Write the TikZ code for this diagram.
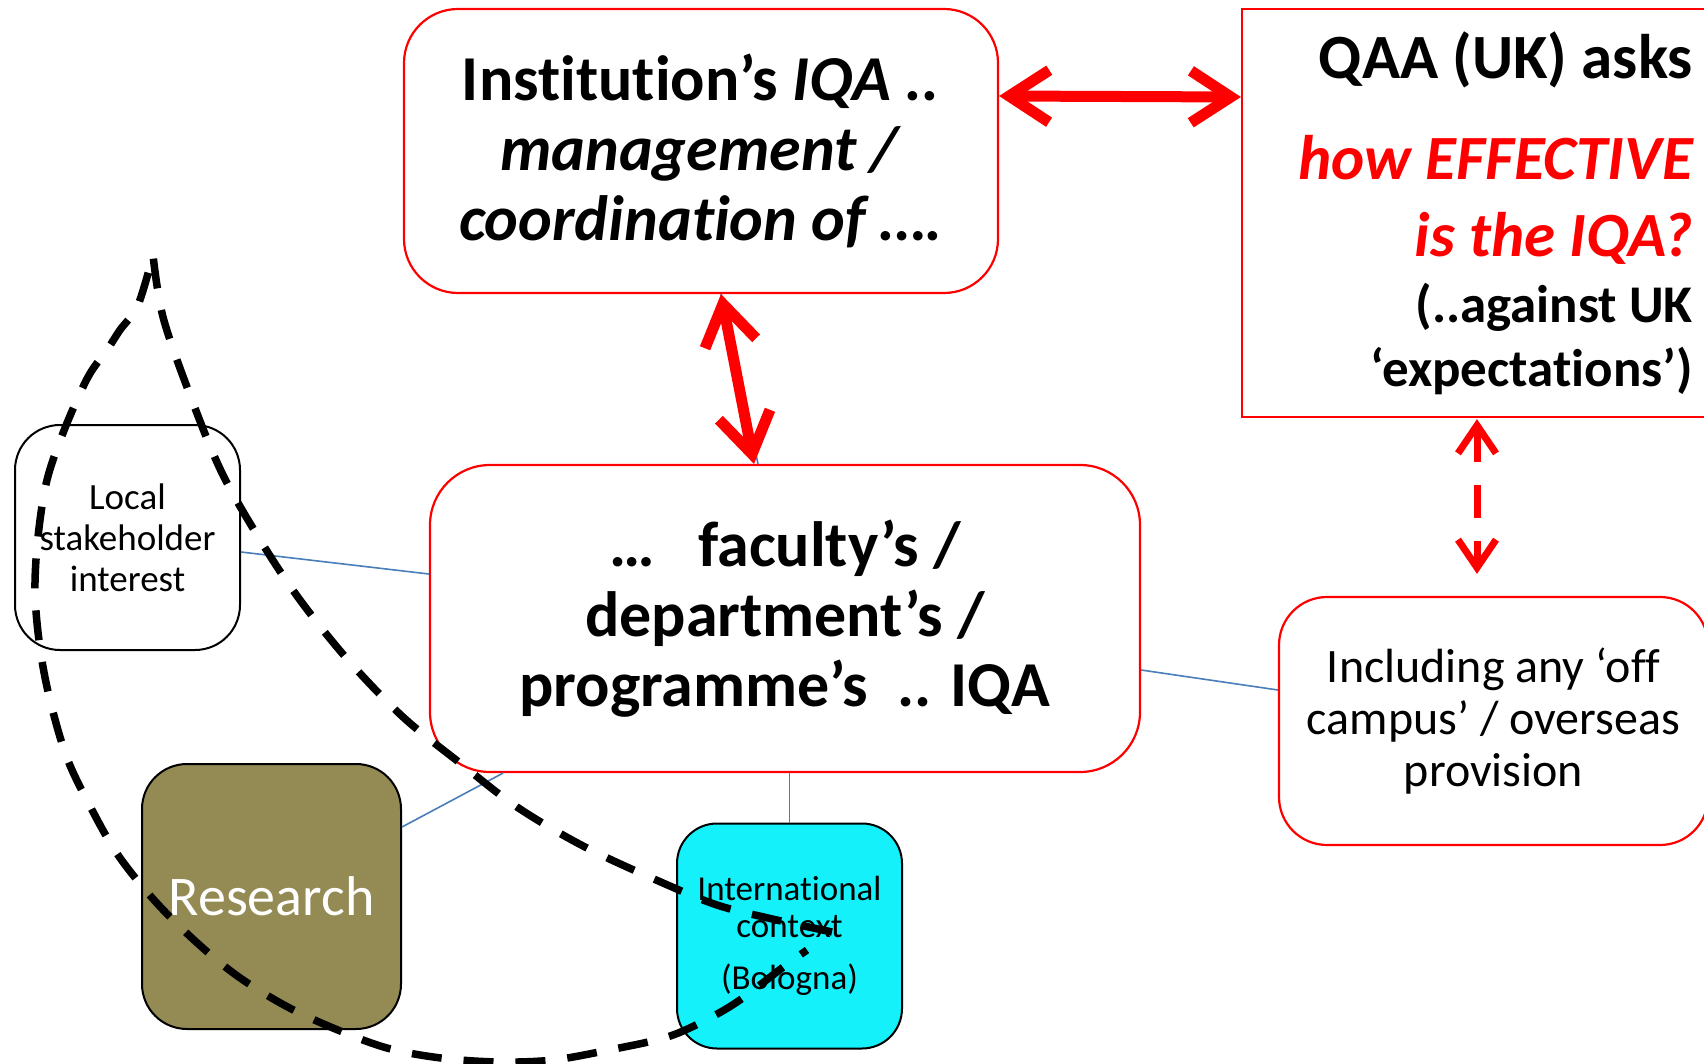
\documentclass[tikz,border=0pt]{standalone}
\usepackage{fontspec}
\setmainfont{Carlito}[Ligatures={NoCommon}]
\usetikzlibrary{arrows.meta}
\definecolor{olivebox}{HTML}{948A54}
\definecolor{cyanbox}{HTML}{14F1FB}
\definecolor{linkblue}{HTML}{4A7EBB}
\definecolor{qred}{HTML}{FF0000}
\begin{document}
\begin{tikzpicture}[x=1pt,y=-1pt,
  redbox/.style={draw=qred, line width=2.2pt, fill=white, rounded corners=#1, inner sep=0pt, align=center},
  blackbox/.style={draw=black, line width=2pt, rounded corners=#1, inner sep=0pt, align=center},
  link/.style={draw=linkblue, line width=1.6pt},
  bigarrow/.style={draw=qred, line width=11pt, {Straight Barb[length=40pt,width=52pt]}-{Straight Barb[length=40pt,width=52pt]}},
  dasharrow/.style={draw=qred, line width=7pt, dash pattern=on 33pt off 23pt, {Straight Barb[length=28pt,width=38pt]}-{Straight Barb[length=28pt,width=38pt]}},
  leafline/.style={draw=black, line width=7.5pt, dash pattern=on 30pt off 22pt}
]
\useasboundingbox (0,0) rectangle (1704,1064);
\clip (0,0) rectangle (1704,1064);
\fill[white] (0,0) rectangle (1704,1064);

% boxes
\node[redbox=54pt, minimum width=594pt, minimum height=284pt,
      font=\fontsize{64}{70}\selectfont\bfseries] (inst) at (701,151)
  {Institution’s \textit{IQA ..}\\\textit{management /}\\\textit{coordination of ….}};

\node[draw=qred, line width=2.2pt, fill=white, minimum width=560pt, minimum height=408pt, inner sep=0pt] (qaa) at (1522,213) {};
\node[anchor=north east, inner sep=0pt, align=right,
      font=\fontsize{63}{64}\selectfont\bfseries] (qaatext) at (1693,32)
  {QAA (UK) asks\\[37pt]
   {\color{qred}\itshape how EFFECTIVE}\\[13pt]
   {\color{qred}\itshape is the IQA?}\\[2pt]
   {\fontsize{53}{64}\selectfont (..against UK}\\
   {\fontsize{53}{64}\selectfont ‘expectations’)}};

\node[redbox=60pt, minimum width=710pt, minimum height=307pt,
      font=\fontsize{64}{70}\selectfont\bfseries] (dept) at (785,618.5)
  {…\ \ \ faculty’s /\\department’s /\\programme’s\ \ .. IQA};

\node[blackbox=45pt, fill=white, minimum width=225pt, minimum height=225pt,
      font=\fontsize{37}{41}\selectfont] (local) at (127.5,537.5)
  {Local\\stakeholder\\interest};

\node[blackbox=45pt, fill=olivebox, text=white, minimum width=259pt, minimum height=265pt,
      font=\fontsize{56}{60}\selectfont] (research) at (271.5,896.5) {Research};

\node[blackbox=40pt, fill=cyanbox, minimum width=225pt, minimum height=225pt,
      font=\fontsize{35}{37}\selectfont] (intl) at (789.5,936)
  {International\\context\\[15pt](Bologna)};

\node[redbox=48pt, minimum width=429pt, minimum height=248pt,
      font=\fontsize{48}{52}\selectfont] (inc) at (1493.5,721)
  {Including any ‘off\\campus’ / overseas\\provision};

% thin connectors
\draw[link] ([yshift=-14.5pt]local.east) -- ([yshift=44.5pt]dept.west);
\draw[link] ([yshift=69.5pt]research.east) -- ([xshift=-282pt]dept.south);
\draw[link] (intl.north) -- (intl.north |- dept.south);
\draw[link] ([yshift=-51.5pt]dept.east) -- ([yshift=31pt]inc.west);
\draw[link] ([xshift=20pt]inst.south) -- ([xshift=-27pt]dept.north);

% red arrows
\draw[bigarrow] ([yshift=55pt]inst.east) -- ([yshift=116pt]qaa.west);
\draw[bigarrow] ([xshift=20pt]inst.south) -- ([xshift=-31pt]dept.north);
\draw[dasharrow] ([xshift=-45pt,yshift=-1pt]qaa.south) -- ([xshift=-16.5pt,yshift=22pt]inc.north);

% dashed leaf curve
\draw[leafline] plot[smooth, tension=0.55] coordinates {(832,932) (768,918) (717,905) (663,883) (585,847) (517,807) (460,763) (403,717) (348,660) (300,600) (262,543) (222,473) (190,395) (163,317) (153,255)}
  -- plot[smooth, tension=0.55] coordinates {(153,255) (138,305) (120,330) (107,350) (88,377) (65,428) (47,480) (38,537) (35,592) (40,648) (50,700) (67,758) (91,808) (118,855) (154,900) (194,940) (236,975) (284,1005) (333,1028) (387,1048) (441,1058) (498,1062) (553,1060) (609,1050) (664,1038) (700,1023) (737,1002) (782,968) (807,950)};
\end{tikzpicture}
\end{document}
